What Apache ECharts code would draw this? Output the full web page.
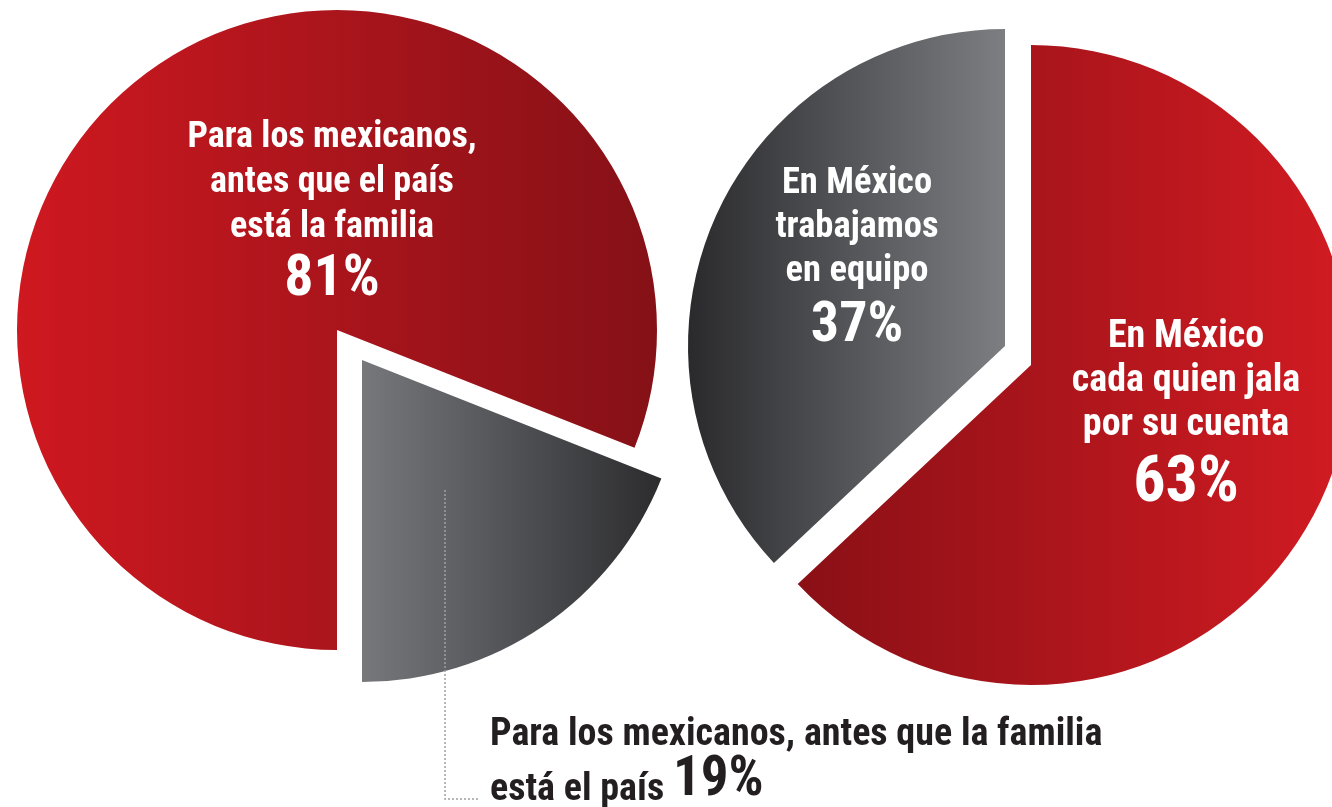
<!DOCTYPE html>
<html>
<head>
<meta charset="utf-8">
<script src="https://cdn.jsdelivr.net/npm/echarts@6/dist/echarts.min.js"></script>
<style>
html,body{margin:0;padding:0;background:#fff;}
#c{width:1332px;height:807px;}
</style>
</head>
<body>
<div id="c"></div>
<script>
// ---- data ----
const leftCategories = ['Para los mexicanos, antes que el país está la familia', 'Para los mexicanos, antes que la familia está el país'];
const leftValues = [81, 19];
const leftLabelLines = [['Para los mexicanos,', 'antes que el país', 'está la familia'], ['Para los mexicanos, antes que la familia', 'está el país']];
const rightCategories = ['En México cada quien jala por su cuenta', 'En México trabajamos en equipo'];
const rightValues = [63, 37];
const rightLabelLines = [['En México', 'cada quien jala', 'por su cuenta'], ['En México', 'trabajamos', 'en equipo']];

// ---- styling ----
const FONT = "'Roboto Condensed', 'Open Sans', sans-serif";
const HIDDEN = 'rgba(0,0,0,0)';
function grad(c0, c1) {
  return new echarts.graphic.LinearGradient(0, 0, 1, 0, [{offset: 0, color: c0}, {offset: 1, color: c1}]);
}
const colors = {
  left: [grad('#cf1820', '#851117'), grad('#76787c', '#2c2c2f')],
  right: [grad('#8a1016', '#d21b22'), grad('#2a2a2d', '#7c7e82')]
};

function whiteRich(F, L, PF, PL) {
  return {
    t: {color: '#fff', fontFamily: FONT, fontWeight: 'bold', fontSize: F, lineHeight: L},
    p: {color: '#fff', fontFamily: FONT, fontWeight: 'bold', fontSize: PF, lineHeight: PL}
  };
}
function insideFormatter(lines, value) {
  return lines.map(s => '{t|' + s + '}').join('\n') + '\n{p|' + value + '%}';
}
const darkRich = {
  d: {color: '#231f20', fontFamily: FONT, fontWeight: 'bold', fontSize: 38, lineHeight: 50, verticalAlign: 'bottom'},
  b: {color: '#231f20', fontFamily: FONT, fontWeight: 'bold', fontSize: 55, lineHeight: 55, verticalAlign: 'bottom'}
};

// geometry (pixels)
const geo = {
  left:  {center: [337, 330], radius: 320, explodedCenter: [362, 360], explodedRadius: 322, startAngle: 270},
  right: {center: [1031, 365], radius: 320, explodedCenter: [1005, 346], explodedRadius: 317, startAngle: 90}
};
const labelPos = {
  left:  [{x: 332, y: 115, align: 'center', verticalAlign: 'top'}, {x: 490, y: 704, align: 'left', verticalAlign: 'top'}],
  right: [{x: 1186, y: 315, align: 'center', verticalAlign: 'top'}, {x: 857, y: 162, align: 'center', verticalAlign: 'top'}]
};
const richFor = {
  left: [whiteRich(36, 45, 58, 61.5), null],
  right: [whiteRich(38, 44, 64, 76), whiteRich(36.5, 44, 56, 65.8)]
};

function buildData(side, values, names, lines, visibleIndex) {
  return values.map((v, i) => {
    const item = {value: v, name: names[i]};
    const visible = i === visibleIndex;
    item.itemStyle = {color: visible ? colors[side][i] : HIDDEN};
    if (!visible) {
      item.label = {show: false};
    } else if (side === 'left' && i === 1) {
      item.label = {
        show: true,
        formatter: '{d|' + lines[i][0] + '}\n{d|' + lines[i][1] + ' }{b|' + v + '%}',
        rich: darkRich
      };
    } else {
      item.label = {show: true, formatter: insideFormatter(lines[i], v), rich: richFor[side][i]};
    }
    return item;
  });
}

function pieSeries(side, values, names, lines, visibleIndex, exploded) {
  const g = geo[side];
  return {
    type: 'pie',
    center: exploded ? g.explodedCenter : g.center,
    radius: exploded ? g.explodedRadius : g.radius,
    startAngle: g.startAngle,
    clockwise: true,
    silent: true,
    emphasis: {disabled: true},
    itemStyle: {borderWidth: 0},
    label: {position: 'inside'},
    labelLine: {show: false},
    labelLayout: p => labelPos[side][p.dataIndex],
    data: buildData(side, values, names, lines, visibleIndex)
  };
}

const chart = echarts.init(document.getElementById('c'), null, {renderer: 'canvas'});
chart.setOption({
  backgroundColor: '#ffffff',
  animation: false,
  series: [
    pieSeries('left', leftValues, leftCategories, leftLabelLines, 0, false),
    pieSeries('left', leftValues, leftCategories, leftLabelLines, 1, true),
    pieSeries('right', rightValues, rightCategories, rightLabelLines, 0, false),
    pieSeries('right', rightValues, rightCategories, rightLabelLines, 1, true)
  ],
  graphic: [
    {
      type: 'polyline',
      shape: {points: [[445, 490], [445, 799], [478, 799]]},
      style: {stroke: '#a0a0a0', lineWidth: 1.5, lineDash: [2, 2], fill: null},
      z: 10
    }
  ]
});
</script>
</body>
</html>
